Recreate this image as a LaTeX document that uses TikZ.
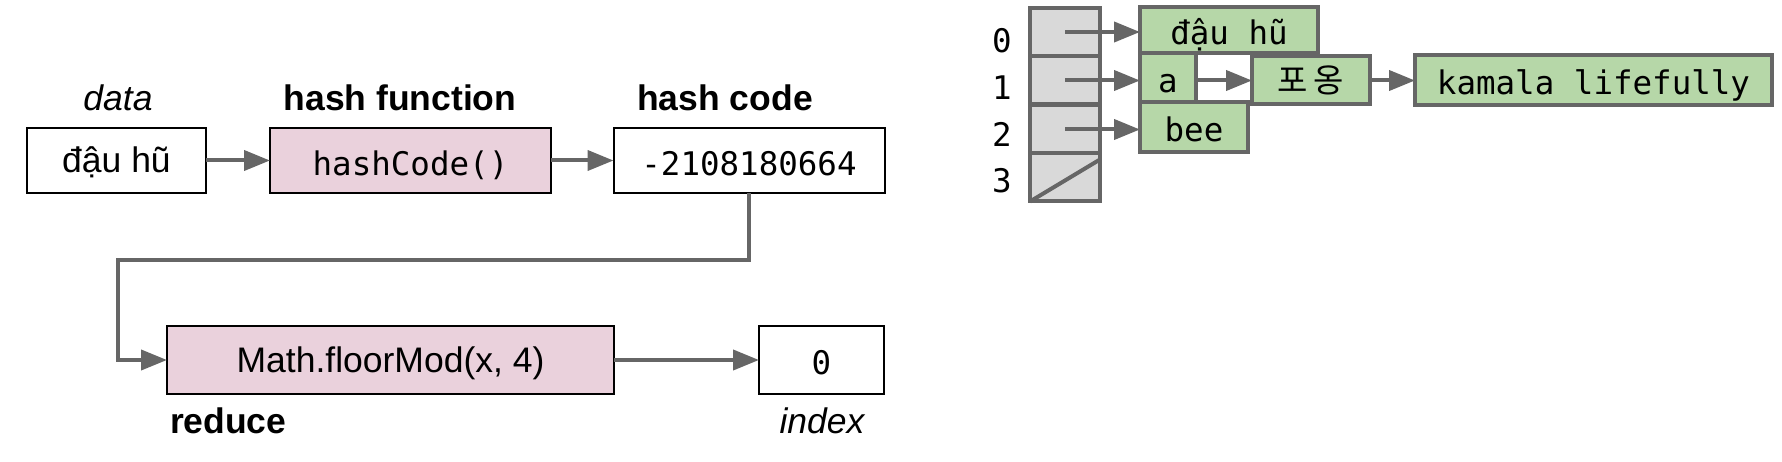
\documentclass[tikz,border=0pt]{standalone}
\usepackage{fontspec}
\setmainfont{Liberation Sans}
\newfontfamily\monof{DejaVu Sans Mono}
\newfontfamily\kof{Noto Sans CJK KR}
\usetikzlibrary{arrows.meta,calc}
\definecolor{pinkf}{HTML}{EAD1DC}
\definecolor{greenf}{HTML}{B6D7A8}
\definecolor{grayf}{HTML}{D9D9D9}
\definecolor{lineg}{HTML}{666666}
\begin{document}
\begin{tikzpicture}[x=1pt,y=-1pt,
  every node/.style={inner sep=0pt, outer sep=0pt},
  sanst/.style={font=\fontsize{35.5}{40}\selectfont, text height=32.1pt, text depth=7.5pt},
  monot/.style={font=\monof\fontsize{32.5}{38}\selectfont, text height=29.3pt, text depth=0pt},
  kort/.style={font=\kof\fontsize{33}{38}\selectfont, text height=28pt, text depth=2pt},
  lbl/.style={font=\fontsize{35.5}{40}\selectfont, anchor=base},
  wbox/.style={draw=black, line width=2pt, fill=white},
  pbox/.style={draw=black, line width=2pt, fill=pinkf},
  cell/.style={draw=lineg, line width=4pt, fill=grayf, minimum width=70pt, minimum height=48pt},
  gcell/.style={draw=lineg, line width=4pt, fill=greenf, monot},
  conn/.style={draw=lineg, line width=4pt, -{Triangle[length=26pt,width=20pt]}},
  plain/.style={draw=lineg, line width=4pt}
]
\useasboundingbox (0,0) rectangle (1782,462);
% labels
\node[lbl, font=\itshape\fontsize{35.5}{40}\selectfont] (ldata) at (118,111) {data};
\node[lbl, font=\bfseries\fontsize{35.5}{40}\selectfont] (lhf) at (400,111) {hash function};
\node[lbl, font=\bfseries\fontsize{35.5}{40}\selectfont] (lhc) at (725,111) {hash code};
\node[lbl, font=\bfseries\fontsize{35.5}{40}\selectfont, anchor=base west] (lred) at (170,433) {reduce};
\node[lbl, font=\itshape\fontsize{35.5}{40}\selectfont] (lidx) at (822,433) {index};
% left boxes
\node[wbox, sanst, minimum width=179pt, minimum height=65pt] (data) at (116.5,160.5) {đậu hũ};
\node[pbox, monot, minimum width=281pt, minimum height=65pt] (hf) at (410.5,160.5) {hashCode()};
\node[wbox, monot, minimum width=271pt, minimum height=65pt] (hv) at (749,160.5) {-2108180664};
\node[pbox, sanst, minimum width=447pt, minimum height=68pt] (floor) at (390.5,360) {Math.floorMod(x, 4)};
\node[wbox, monot, minimum width=125pt, minimum height=68pt] (idx) at (821.5,360) {0};
\coordinate (bend) at (118,260);
\draw[conn] (data) -- (hf);
\draw[conn] (hf) -- (hv);
\draw[conn] (hv.south) |- (bend) |- (floor.west);
\draw[conn] (floor) -- (idx);
% array
\node[cell] (r0) at (1065,32) {};
\node[cell] (r1) at (1065,80.5) {};
\node[cell] (r2) at (1065,129.5) {};
\node[cell] (r3) at (1065,177.5) {};
\draw[plain] (r3.south west) -- ($(r3.north east)+(0,6)$);
\node[monot, anchor=base, text height=, text depth=] (l0) at (1002,53) {0};
\node[monot, anchor=base, text height=, text depth=] (l1) at (1002,100) {1};
\node[monot, anchor=base, text height=, text depth=] (l2) at (1002,147) {2};
\node[monot, anchor=base, text height=, text depth=] (l3) at (1002,193) {3};
% green cells
\node[gcell, minimum width=178pt, minimum height=46pt] (g0) at (1229,30) {đậu hũ};
\node[gcell, minimum width=56pt, minimum height=49pt] (ga) at (1168,78) {a};
\node[gcell, kort, minimum width=118pt, minimum height=48pt] (gp) at (1311,80) {포\hspace{6pt}옹};
\node[gcell, minimum width=108pt, minimum height=50pt] (gb) at (1194,127) {bee};
\node[gcell, minimum width=357pt, minimum height=50pt] (gk) at (1593.5,80) {kamala lifefully};
\draw[conn] (r0.center) -- (r0.center -| g0.west);
\draw[conn] (r1.center) -- (r1.center -| ga.west);
\draw[conn] (r2.center) -- (r2.center -| gb.west);
\draw[conn] (ga.east |- r1.center) -- (r1.center -| gp.west);
\draw[conn] (gp.east |- r1.center) -- (r1.center -| gk.west);
\end{tikzpicture}
\end{document}
